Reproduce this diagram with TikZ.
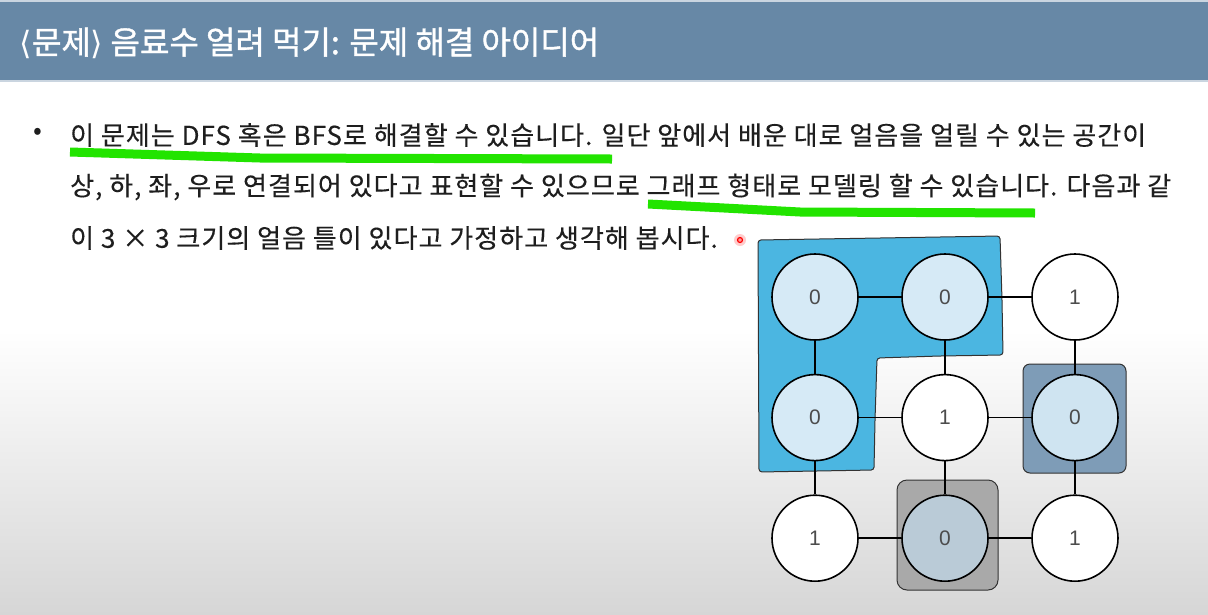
\documentclass[tikz,border=0pt]{standalone}
\usepackage{fontspec}
\setmainfont{Noto Sans CJK KR}
\newfontfamily\bodyfont[LetterSpace=4, FakeBold=0.3]{Noto Sans CJK KR}
\newfontfamily\headfont[FakeBold=1.2]{Noto Sans CJK KR}
\newfontfamily\bracketfont{DejaVu Sans}
\newfontfamily\digitfont{Liberation Sans}
\usepackage{xcolor}
\usepackage{tikz}
\usetikzlibrary{positioning}

\definecolor{titlebar}{HTML}{6788A6}
\definecolor{iceblue}{HTML}{4BB6E1}
\definecolor{traySlate}{HTML}{7E9CB7}
\definecolor{trayGray}{HTML}{A9A9A9}
\definecolor{zerofill}{HTML}{D6EAF6}
\definecolor{marker}{HTML}{22E400}
\definecolor{bodytext}{HTML}{1E1E1E}

\begin{document}
\begin{tikzpicture}[x=1pt, y=-1pt,
  node distance=33pt and 42.4pt,
  cell/.style={draw, circle, line width=1.6pt, minimum size=86pt, inner sep=0pt,
               font=\digitfont\fontsize{21}{21}\selectfont, text=black!70},
  zero/.style={cell, fill=zerofill},
  one/.style={cell, fill=white},
  link/.style={line width=1.6pt},
  region/.style={draw=black!80, line width=1pt},
  txtline/.style={anchor=west, inner sep=0pt, text=bodytext,
                  font=\bodyfont\fontsize{26}{26}\selectfont},
  hl/.style={draw=marker, line width=9pt}
]
\useasboundingbox (0,0) rectangle (1208,614);

% page background and title bar
\fill[white] (0,0) rectangle (1208,614);
\shade[top color=white, bottom color=black!16] (0,330) rectangle (1208,614);
\fill[titlebar] (0,0) rectangle (1208,82);
\draw[white!65!titlebar, line width=2pt] (0,1)--(1208,1);
\draw[white!65!titlebar, line width=2pt] (0,81)--(1208,81);
\node[anchor=west, text=white, font=\headfont\fontsize{32}{32}\selectfont] (title) at (16,43)
  {{\bracketfont⟨}문제{\bracketfont⟩} 음료수 얼려 먹기: 문제 해결 아이디어};

% bullet text
\node[font=\fontsize{26}{26}\selectfont, text=bodytext] (bullet) at (38,134) {•};
\node[txtline] (l1) at (70,135)
  {이 문제는 DFS 혹은 BFS로 해결할 수 있습니다. 일단 앞에서 배운 대로 얼음을 얼릴 수 있는 공간이};
\node[txtline] (l2) at (70,187)
  {상, 하, 좌, 우로 연결되어 있다고 표현할 수 있으므로 그래프 형태로 모델링 할 수 있습니다. 다음과 같};
\node[txtline] (l3) at (70,238)
  {이 3 × 3 크기의 얼음 틀이 있다고 가정하고 생각해 봅시다.};
\draw[hl] (70,152) -- (260,158) -- (612,159);
\draw[hl] (648,204) -- (800,212) -- (1035,213);
\fill[red!20] (740,240) circle (6);
\draw[red, line width=1.2pt, fill=red!40] (740,240) circle (2.5);

% ice tray regions
\draw[region, fill=iceblue, rounded corners=3pt]
  (758,240) -- (880,238) -- (1000,236) -- (1002,300) -- (1003,355)
  -- (940,356) -- (877,358) -- (875,420) -- (874,470) -- (759,472) -- cycle;
\draw[region, fill=traySlate, rounded corners=7pt] (1023,364) rectangle (1126,473);
\draw[region, fill=trayGray, rounded corners=10pt] (897,480) rectangle (998,590);

% grid cells
\node[zero] (c11) at (815,297) {0};
\node[zero, right=of c11] (c12) {0};
\node[one,  right=of c12] (c13) {1};
\node[zero, below=of c11] (c21) {0};
\node[one,  right=of c21] (c22) {1};
\node[zero, right=of c22, fill=zerofill!92!traySlate] (c23) {0};
\node[one,  below=of c21] (c31) {1};
\node[zero, right=of c31, fill=zerofill!70!trayGray!80!traySlate] (c32) {0};
\node[one,  right=of c32] (c33) {1};
\draw[link] (c11)--(c12); \draw[link] (c12)--(c13);
\draw[link] (c21)--(c22); \draw[link] (c22)--(c23);
\draw[link] (c31)--(c32); \draw[link] (c32)--(c33);
\draw[link] (c11)--(c21); \draw[link] (c21)--(c31);
\draw[link] (c12)--(c22); \draw[link] (c22)--(c32);
\draw[link] (c13)--(c23); \draw[link] (c23)--(c33);
\end{tikzpicture}
\end{document}
